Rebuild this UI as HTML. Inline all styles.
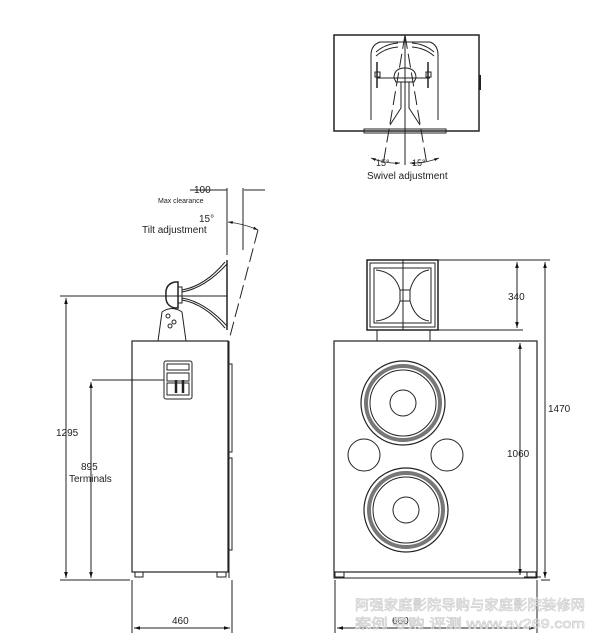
<!DOCTYPE html>
<html><head><meta charset="utf-8"><style>
html,body{margin:0;padding:0;background:#fff}
svg{display:block}
text{font-family:"Liberation Sans",sans-serif;fill:#222}
</style></head><body>
<svg width="600" height="643" viewBox="0 0 600 643" xmlns="http://www.w3.org/2000/svg">
<defs>
<marker id="a" viewBox="0 0 10 10" refX="10" refY="5" markerWidth="6" markerHeight="6" orient="auto-start-reverse"><path d="M0,2 L10,5 L0,8z" fill="#111"/></marker>
</defs>
<g stroke="#222" fill="none" stroke-width="1">
<!-- TOP VIEW -->
<rect x="334" y="35" width="145" height="96" stroke-width="1.5"/>
<line x1="480" y1="75" x2="480" y2="90" stroke-width="2"/>
<path d="M371,120 L371,55 Q371,45 380,42 L430,42 Q438,45 438,55 L438,120" />
<path d="M376,52 Q385,44 398,43 M412,43 Q425,44 434,52"/>
<path d="M376,56 Q385,48 398,47 M412,47 Q425,48 434,56"/>
<line x1="377" y1="62" x2="377" y2="88" stroke-width="1.5"/>
<line x1="428" y1="62" x2="428" y2="88" stroke-width="1.5"/>
<rect x="375" y="72" width="5" height="5"/><rect x="426" y="72" width="5" height="5"/>
<line x1="377" y1="78" x2="430" y2="78"/>
<path d="M394,78 Q394,68 405,68 Q416,68 416,78 L414,82 L396,82Z"/>
<path d="M401,82 L401,108 L390,125 M409,82 L409,108 L420,125"/>
<rect x="364" y="129" width="82" height="4"/>
<line x1="405" y1="35" x2="405" y2="165"/>
<path d="M405,35 L383,165 M405,35 L427,165" stroke-dasharray="14,5"/>
<path d="M371,158 Q387,164 400,163" marker-start="url(#a)" marker-end="url(#a)" stroke-width="0.8"/>
<path d="M410,163 Q423,164 439,158" marker-start="url(#a)" marker-end="url(#a)" stroke-width="0.8"/>
<!-- SIDE VIEW -->
<rect x="132" y="341" width="96" height="231" stroke-width="1.2"/>
<line x1="229" y1="341" x2="229" y2="578"/>
<path d="M229,364 L232,364 L232,452 L229,452 M229,458 L232,458 L232,550 L229,550"/>
<path d="M135,572 L135,577 L143,577 L143,572 M217,572 L217,577 L226,577 L226,572"/>
<rect x="164" y="361" width="28" height="38" rx="2"/>
<rect x="167" y="364" width="22" height="6"/>
<rect x="167" y="373" width="22" height="8"/>
<rect x="167" y="383" width="22" height="12"/>
<line x1="176" y1="380" x2="176" y2="393" stroke-width="2.5"/><line x1="183" y1="380" x2="183" y2="393" stroke-width="2.5"/>
<line x1="92" y1="380" x2="164" y2="380"/>
<path d="M158,341 L162,312 Q172,305 182,312 L186,341"/>
<circle cx="168" cy="316" r="2"/><circle cx="174" cy="322" r="2"/><circle cx="170" cy="326" r="2"/>
<path d="M166,295 Q165,284 175,282 L178,282 L178,308 L175,308 Q165,306 166,295Z" stroke-width="1.5"/>
<rect x="178" y="287" width="4" height="16"/>
<path d="M182,290 Q205,286 225,262 M182,300 Q205,304 225,328"/>
<path d="M182,292 Q205,288 227,264 M182,298 Q205,302 227,326"/>
<line x1="227" y1="260" x2="227" y2="330" stroke-width="1.5"/>
<line x1="60" y1="296" x2="227" y2="296"/>
<line x1="227" y1="188" x2="227" y2="255"/>
<line x1="243" y1="188" x2="243" y2="250"/>
<line x1="244" y1="190" x2="265" y2="190"/>
<line x1="190" y1="190" x2="227" y2="190"/>
<path d="M228,222 Q245,224 258,230" marker-start="url(#a)" marker-end="url(#a)" stroke-width="0.8"/>
<path d="M258,230 L229,340" stroke-dasharray="14,5"/>
<!-- FRONT VIEW -->
<rect x="334" y="341" width="203" height="231" stroke-width="1.2"/>
<path d="M334,572 L334,578 L537,578 L537,572"/>
<path d="M335,572 L335,577 L344,577 L344,572 M527,572 L527,577 L536,577 L536,572"/>
<rect x="367" y="260" width="71" height="70" stroke-width="1.5"/>
<rect x="370" y="263" width="65" height="64"/>
<path d="M374,268 L431,268 L431,323 L374,323Z"/>
<path d="M376,270 Q395,272 400,290 L410,290 Q415,272 429,270 M376,321 Q395,319 400,301 L410,301 Q415,319 429,321"/>
<line x1="400" y1="290" x2="400" y2="301"/><line x1="410" y1="290" x2="410" y2="301"/>
<line x1="403" y1="260" x2="403" y2="330"/>
<path d="M377,330 L377,341 M430,330 L430,341"/>
<circle cx="403" cy="403" r="42" stroke-width="1.2"/>
<circle cx="403" cy="403" r="37" stroke="#777" stroke-width="4"/>
<circle cx="403" cy="403" r="33"/>
<circle cx="403" cy="403" r="13"/>
<circle cx="406" cy="510" r="42" stroke-width="1.2"/>
<circle cx="406" cy="510" r="37" stroke="#777" stroke-width="4"/>
<circle cx="406" cy="510" r="33"/>
<circle cx="406" cy="510" r="13"/>
<circle cx="364" cy="455" r="16"/>
<circle cx="447" cy="455" r="16"/>
<!-- dimensions -->
<line x1="60" y1="580" x2="130" y2="580"/>
<line x1="66" y1="298" x2="66" y2="578" marker-start="url(#a)" marker-end="url(#a)"/>
<line x1="91" y1="382" x2="91" y2="578" marker-start="url(#a)" marker-end="url(#a)"/>
<line x1="132" y1="580" x2="132" y2="633"/><line x1="232" y1="580" x2="232" y2="633"/>
<line x1="134" y1="628" x2="230" y2="628" marker-start="url(#a)" marker-end="url(#a)"/>
<line x1="335" y1="580" x2="335" y2="633"/><line x1="537" y1="580" x2="537" y2="633"/>
<line x1="337" y1="628" x2="535" y2="628" marker-start="url(#a)" marker-end="url(#a)"/>
<line x1="438" y1="260" x2="550" y2="260"/>
<line x1="438" y1="330" x2="523" y2="330"/>
<line x1="479" y1="341" x2="523" y2="341"/>
<line x1="541" y1="580" x2="550" y2="580"/>
<line x1="541" y1="577" x2="524" y2="577"/>
<line x1="517" y1="262" x2="517" y2="328" marker-start="url(#a)" marker-end="url(#a)"/>
<line x1="545" y1="262" x2="545" y2="578" marker-start="url(#a)" marker-end="url(#a)"/>
<line x1="520" y1="343" x2="520" y2="575" marker-start="url(#a)" marker-end="url(#a)"/>
</g>
<g font-size="10">
<text x="376" y="166" font-size="9">15°</text>
<text x="412" y="166" font-size="9">15°</text>
<text x="367" y="179">Swivel adjustment</text>
<text x="194" y="193">100</text>
<text x="158" y="203" font-size="7">Max clearance</text>
<text x="199" y="222">15°</text>
<text x="142" y="233">Tilt adjustment</text>
<text x="56" y="436">1295</text>
<text x="81" y="470">895</text>
<text x="69" y="482">Terminals</text>
<text x="172" y="624">460</text>
<text x="392" y="624">660</text>
<text x="508" y="300">340</text>
<text x="548" y="412">1470</text>
<text x="507" y="457">1060</text>
</g>
<g style="font-family:'Liberation Sans','Noto Sans CJK SC',sans-serif" fill="none" stroke="#d0d0d0" stroke-width="0.7">
<text x="355" y="610" font-size="14" style="fill:none" textLength="230" lengthAdjust="spacingAndGlyphs">阿强家庭影院导购与家庭影院装修网</text>
<text x="355" y="628" font-size="13" style="fill:none" textLength="230" lengthAdjust="spacingAndGlyphs">案例 导购 评测 www.av269.com</text>
</g>
</svg>
</body></html>
